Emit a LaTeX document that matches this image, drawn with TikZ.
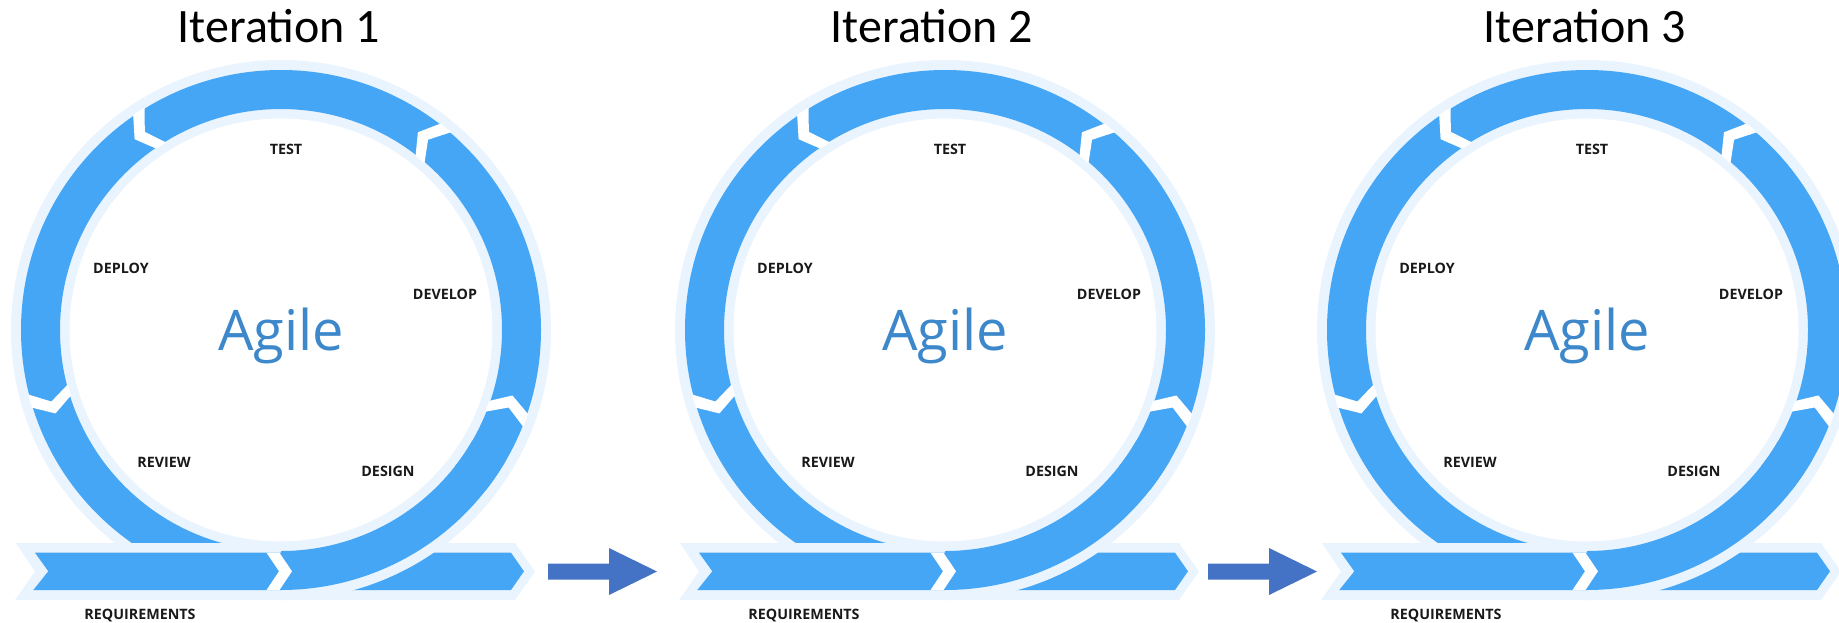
\documentclass[tikz,border=0pt]{standalone}
\usepackage{fontspec}
\setmainfont{Open Sans}
\newfontfamily\titlefont{Carlito}
\definecolor{ringblue}{RGB}{69,166,245}
\definecolor{ringlight}{RGB}{233,244,254}
\definecolor{arrowblue}{RGB}{68,114,196}
\definecolor{agileblue}{RGB}{61,135,203}
\tikzset{
  lbl/.style={font=\fontsize{14.3}{14.3}\selectfont\bfseries, text=black!90, inner sep=0pt, anchor=base},
  agiletxt/.style={font=\fontsize{56}{56}\selectfont, text=agileblue, inner sep=0pt, anchor=base},
  ttl/.style={font=\titlefont\fontsize{48}{48}\selectfont, text=black, inner sep=0pt, anchor=base},
  blockarrow/.style={fill=arrowblue},
}
\newcommand{\gapcut}[1]{\fill[white] (#1:261) -- ({#1+3}:240.5) -- (#1:220) -- ({#1+3}:220) -- ({#1+6}:240.5) -- ({#1+3}:261) -- cycle;}
\newcommand{\iterdraw}[2]{%
\begin{scope}[shift={(#1,-330)}]
 \fill[ringlight] (0,0) circle[radius=270];
 \fill[ringblue, even odd rule] (0,0) circle[radius=260] (0,0) circle[radius=221];
 \fill[white] (0,0) circle[radius=211.5];
 \fill[ringlight] (-265,-213) -- (234,-213) -- (254,-241.5) -- (234,-270) -- (-266,-270) -- (-246,-241.5) -- cycle;
 \fill[ringblue] (-246,-222.7) -- (230,-222.7) -- (243,-241.3) -- (230,-260) -- (-247.7,-260) -- (-232.7,-241.3) -- cycle;
 \fill[ringlight] (-90:270) arc[start angle=-90,end angle=-38,radius=270] -- (-38:211.5) arc[start angle=-38,end angle=-90,radius=211.5] -- cycle;
 \fill[ringblue] (-90:260) arc[start angle=-90,end angle=-30,radius=260] -- (-30:221) arc[start angle=-30,end angle=-90,radius=221] -- cycle;
 \fill[white] (-14.5,-222.7) -- (-1.5,-222.7) -- (11,-241.3) -- (-1.5,-260) -- (-14.5,-260) -- (-2,-241.3) -- cycle;
 \gapcut{-21.8}\gapcut{49.3}\gapcut{121.5}\gapcut{194.3}
 \node[agiletxt] (agile#2) at (0,-20.5) {Agile};
 \node[lbl] (test#2) at (5,175.3) {TEST};
 \node[lbl] (deploy#2) at (-160,56.8) {DEPLOY};
 \node[lbl] (develop#2) at (164,30.8) {DEVELOP};
 \node[lbl] (review#2) at (-117,-137.2) {REVIEW};
 \node[lbl] (design#2) at (107,-146.7) {DESIGN};
 \node[lbl] (req#2) at (-141,-289.2) {REQUIREMENTS};
\end{scope}}
\begin{document}
\begin{tikzpicture}[x=1pt,y=1pt]
\useasboundingbox (0,0) rectangle (1839,-622);
\clip (0,0) rectangle (1839,-622);
\iterdraw{281}{1}
\iterdraw{945}{2}
\iterdraw{1587}{3}
\node[ttl] (title1) at (279,-42) {Iteration 1};
\node[ttl] (title2) at (932,-42) {Iteration 2};
\node[ttl] (title3) at (1585,-42) {Iteration 3};
\fill[blockarrow] (548,-563.5) -- (609,-563.5) -- (609,-548) -- (657,-571.5) -- (609,-595) -- (609,-579.5) -- (548,-579.5) -- cycle;
\fill[blockarrow] (1208,-563.5) -- (1269,-563.5) -- (1269,-548) -- (1317,-571.5) -- (1269,-595) -- (1269,-579.5) -- (1208,-579.5) -- cycle;
\end{tikzpicture}
\end{document}
